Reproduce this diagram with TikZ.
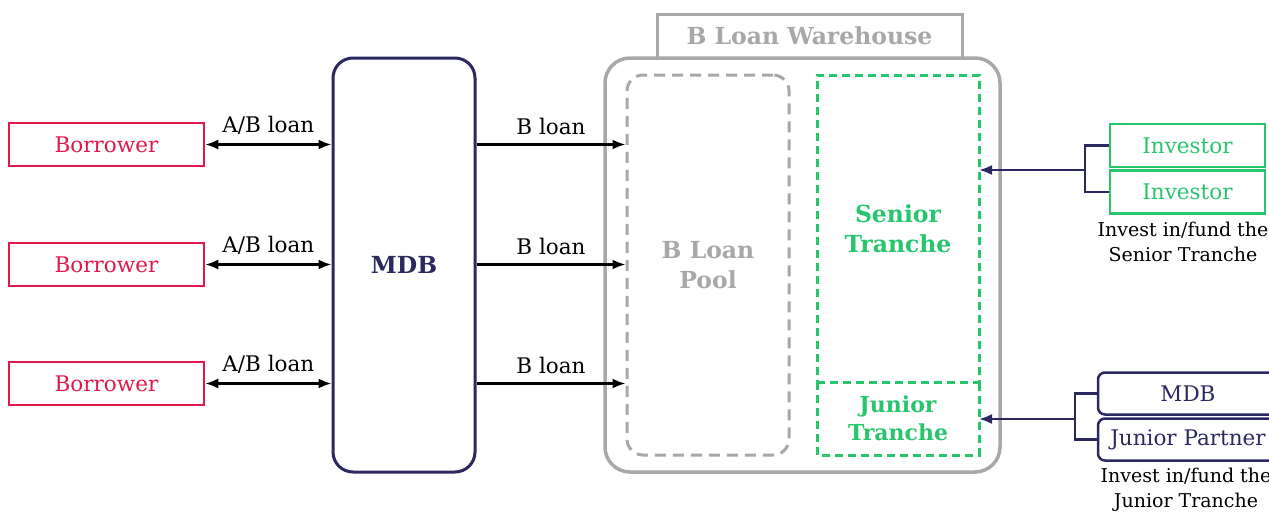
\documentclass[tikz,border=0pt]{standalone}
\usepackage{fontspec}
\setmainfont{DejaVu Serif}
\usetikzlibrary{arrows.meta,positioning}
\definecolor{crim}{HTML}{E2184A}
\definecolor{navy}{HTML}{2C2860}
\definecolor{wgray}{HTML}{A8A8A8}
\definecolor{tgreen}{HTML}{27C56C}
\tikzset{
  txt/.style={font=\fontsize{21.5}{27}\selectfont, align=center, inner sep=0pt},
  heavy/.style={font=\fontsize{23.5}{30}\selectfont\bfseries, align=center, inner sep=0pt},
  borrower/.style={draw=crim, line width=2.5pt, text=crim, minimum width=195pt, minimum height=43pt, txt},
  investor/.style={draw=tgreen, line width=2.5pt, text=tgreen, minimum width=155pt, minimum height=43pt, txt},
  navybox/.style={draw=navy, line width=2.5pt, text=navy, rounded corners=7pt, minimum width=180pt, minimum height=42pt, txt},
  flow/.style={line width=2.2pt, {Latex[length=13pt,width=10pt]}-{Latex[length=13pt,width=10pt]}},
  oneway/.style={line width=2.2pt, -{Latex[length=13pt,width=10pt]}},
  feed/.style={draw=navy, line width=2.2pt},
  lbl/.style={txt, text=black},
  greendash/.style={draw=tgreen, line width=3pt, dash pattern=on 8pt off 5pt},
}
\begin{document}
\begin{tikzpicture}[x=1pt,y=-1pt]
\clip (0,0) rectangle (1269,514);
\fill[white] (0,0) rectangle (1269,514);

% borrowers
\node[borrower] (b1) at (106.5,144.5) {Borrower};
\node[borrower] (b2) at (106.5,264.5) {Borrower};
\node[borrower] (b3) at (106.5,383.5) {Borrower};

% originating bank
\node[draw=navy, line width=3pt, rounded corners=20pt, minimum width=142pt, minimum height=414pt,
      text=navy, heavy] (mdb) at (404,265) {MDB};

% warehouse
\node[draw=wgray, line width=3.5pt, rounded corners=25pt, minimum width=395pt, minimum height=414pt] (wh) at (802.5,265) {};
\node[draw=wgray, line width=3pt, minimum width=305pt, minimum height=44pt, text=wgray, heavy] (whtitle) at (809.5,36) {B Loan Warehouse};
\node[draw=wgray, line width=3pt, dash pattern=on 11pt off 7pt, rounded corners=16pt,
      minimum width=162pt, minimum height=380pt, text=wgray, heavy] (pool) at (708,265) {B Loan\\Pool};
\node[greendash, outer sep=0pt, minimum width=162pt, minimum height=307pt, text=tgreen, heavy] (senior) at (898,228.5) {Senior\\Tranche};
\node[outer sep=0pt, minimum width=162pt, minimum height=73pt, text=tgreen, heavy,
      font=\fontsize{22}{28}\selectfont\bfseries] (junior) at (898,418.5) {Junior\\Tranche};
\draw[greendash] (senior.south west) -- (junior.south west) -- (junior.south east) -- (senior.south east);

% A/B loans
\foreach \b in {b1,b2,b3}{
  \draw[flow] (\b.east) -- node[lbl, above=9pt] {A/B loan} (\b.east -| mdb.west);
  \draw[oneway] (\b.east -| mdb.east) -- node[lbl, above=9pt] {B loan} (\b.east -| pool.west);
}

% senior investors
\node[investor] (inv1) at (1187.5,145.5) {Investor};
\node[investor] (inv2) at (1187.5,192) {Investor};
\coordinate (sj) at (1085,170);
\draw[feed] (inv1.west) -| (sj) |- (inv2.west);
\draw[feed, -{Latex[length=13pt,width=10pt]}] (sj) -- (sj -| senior.east);
\node[lbl, anchor=north, font=\fontsize{19}{25}\selectfont] (slbl) at (1183,222) {Invest in/fund the\\Senior Tranche};

% junior investors
\node[navybox] (jm) at (1188,393.5) {MDB};
\node[navybox] (jp) at (1188,439.5) {Junior Partner};
\coordinate (jj) at (1075,419);
\draw[feed] (jm.west) -| (jj) |- (jp.west);
\draw[feed, -{Latex[length=13pt,width=10pt]}] (jj) -- (jj -| junior.east);
\node[lbl, anchor=north, font=\fontsize{19}{25}\selectfont] (jlbl) at (1186,468) {Invest in/fund the\\Junior Tranche};
\end{tikzpicture}
\end{document}
